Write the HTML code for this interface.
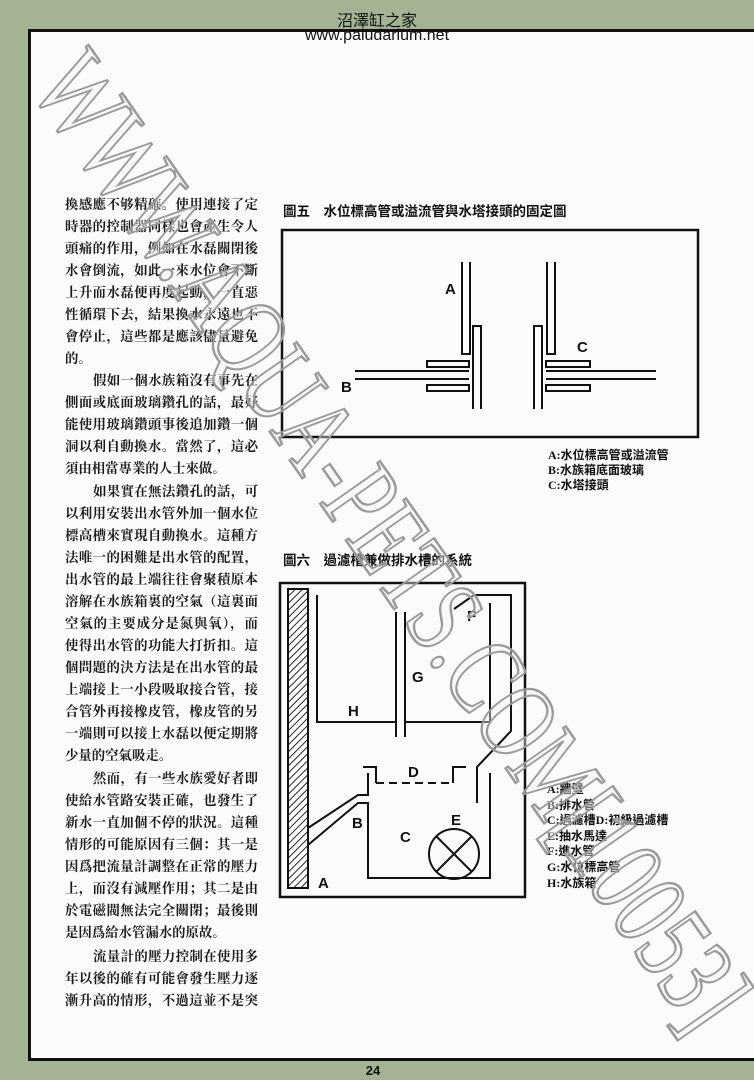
<!DOCTYPE html>
<html><head><meta charset="utf-8">
<style>
*{margin:0;padding:0;box-sizing:border-box}
html,body{width:754px;height:1080px;overflow:hidden;background:#a3b394}
#page{position:absolute;left:28px;top:29px;width:726px;height:1032px;background:#fbfbfb;border-top:3px solid #111;border-left:3px solid #111;border-bottom:3px solid #111}
.hd{position:absolute;left:0;width:754px;text-align:center;font-family:"Liberation Sans","Noto Sans CJK TC",sans-serif;color:#111;font-size:16px}
.ln{position:absolute;left:65px;width:193px;height:22px;line-height:22px;font-family:"Liberation Serif","Noto Serif CJK SC",serif;font-size:13.4px;font-weight:bold;color:#1a1a1a;text-align:justify;text-align-last:justify;white-space:nowrap}
.ln.in{left:93px;width:165px}
.ln.end{text-align-last:left}
.ttl{position:absolute;font-family:"Liberation Sans","Noto Sans CJK TC",sans-serif;font-weight:bold;font-size:13.5px;color:#111;white-space:nowrap}
.lg{position:absolute;font-family:"Liberation Serif","Noto Sans CJK TC",serif;font-weight:bold;font-size:12px;color:#111;white-space:nowrap;line-height:15px}
svg{position:absolute;left:0;top:0}
</style></head><body>
<div id="page"></div>
<div class="hd" style="top:7px">沼澤缸之家</div>
<div class="hd" style="top:27px">www.paludarium.net</div>

<div class="ln" style="top:194px">換感應不够精確。使用連接了定</div>
<div class="ln" style="top:216px">時器的控制器同樣也會產生令人</div>
<div class="ln" style="top:238px">頭痛的作用，例如在水磊關閉後</div>
<div class="ln" style="top:260px">水會倒流，如此一來水位會不斷</div>
<div class="ln" style="top:282px">上升而水磊便再度起動，一直惡</div>
<div class="ln" style="top:304px">性循環下去，結果換水永遠也不</div>
<div class="ln" style="top:326px">會停止，這些都是應該儘量避免</div>
<div class="ln end" style="top:348px">的。</div>
<div class="ln in" style="top:370px">假如一個水族箱沒有事先在</div>
<div class="ln" style="top:392px">側面或底面玻璃鑽孔的話，最好</div>
<div class="ln" style="top:414px">能使用玻璃鑽頭事後追加鑽一個</div>
<div class="ln" style="top:436px">洞以利自動換水。當然了，這必</div>
<div class="ln end" style="top:458px">須由相當專業的人士來做。</div>
<div class="ln in" style="top:481px">如果實在無法鑽孔的話，可</div>
<div class="ln" style="top:503px">以利用安裝出水管外加一個水位</div>
<div class="ln" style="top:525px">標高槽來實現自動換水。這種方</div>
<div class="ln" style="top:547px">法唯一的困難是出水管的配置，</div>
<div class="ln" style="top:569px">出水管的最上端往往會聚積原本</div>
<div class="ln" style="top:591px">溶解在水族箱裏的空氣（這裏面</div>
<div class="ln" style="top:613px">空氣的主要成分是氮與氧），而</div>
<div class="ln" style="top:635px">使得出水管的功能大打折扣。這</div>
<div class="ln" style="top:657px">個問題的決方法是在出水管的最</div>
<div class="ln" style="top:679px">上端接上一小段吸取接合管，接</div>
<div class="ln" style="top:701px">合管外再接橡皮管，橡皮管的另</div>
<div class="ln" style="top:723px">一端則可以接上水磊以便定期將</div>
<div class="ln end" style="top:745px">少量的空氣吸走。</div>
<div class="ln in" style="top:768px">然而，有一些水族愛好者即</div>
<div class="ln" style="top:790px">使給水管路安裝正確，也發生了</div>
<div class="ln" style="top:812px">新水一直加個不停的狀況。這種</div>
<div class="ln" style="top:834px">情形的可能原因有三個：其一是</div>
<div class="ln" style="top:856px">因爲把流量計調整在正常的壓力</div>
<div class="ln" style="top:878px">上，而沒有減壓作用；其二是由</div>
<div class="ln" style="top:900px">於電磁閥無法完全關閉；最後則</div>
<div class="ln end" style="top:922px">是因爲給水管漏水的原故。</div>
<div class="ln in" style="top:946px">流量計的壓力控制在使用多</div>
<div class="ln" style="top:968px">年以後的確有可能會發生壓力逐</div>
<div class="ln" style="top:990px">漸升高的情形，不過這並不是突</div>

<div class="ttl" style="left:283px;top:200px">圖五　水位標高管或溢流管與水塔接頭的固定圖</div>
<div class="ttl" style="left:283px;top:549px">圖六　過濾槽兼做排水槽的系統</div>

<div class="lg" style="left:548px;top:448px">A:水位標高管或溢流管<br>B:水族箱底面玻璃<br>C:水塔接頭</div>
<div class="lg" style="left:547px;top:782px;line-height:15.6px">A:牆壁<br>B:排水管<br>C:過濾槽D:初級過濾槽<br>E:抽水馬達<br>F:進水管<br>G:水位標高管<br>H:水族箱</div>

<svg width="754" height="1080" viewBox="0 0 754 1080">
<defs>
<pattern id="h" width="5" height="5" patternUnits="userSpaceOnUse" patternTransform="rotate(45)">
<rect width="5" height="5" fill="#fff"/><line x1="0" y1="0" x2="0" y2="5" stroke="#222" stroke-width="2"/>
</pattern>
</defs>
<g fill="none" stroke="#111" stroke-width="2">
<rect x="282" y="230" width="416" height="207" stroke-width="2.5"/>
<path d="M462 262V354H470V262"/>
<path d="M473 409V326H481V409"/>
<rect x="427" y="361" width="42" height="6"/>
<rect x="427" y="385" width="42" height="6"/>
<path d="M355 371H469M355 379H469"/>
<path d="M534 409V326H542V409"/>
<path d="M547 262V354H555V262"/>
<rect x="546" y="361" width="44" height="6"/>
<rect x="546" y="385" width="44" height="6"/>
<path d="M546 371H656M546 379H656"/>
<rect x="280" y="583" width="245" height="314" stroke-width="2.5"/>
<rect x="288" y="589" width="20" height="299" fill="url(#h)"/>
<path d="M317 595V722H395"/>
<path d="M396 612V737M405 612V737"/>
<path d="M406 722H490V603"/>
<path d="M454 609L474 595H511V731L477 767V803"/>
<path d="M308 828L358 795H368V773"/>
<path d="M308 845L358 803H368V878H490V773"/>
<path d="M363 767H376V783M453 783V767H466"/>
<path d="M376 783H453" stroke-dasharray="8 5"/>
<circle cx="454" cy="854" r="25"/>
<path d="M436 836L472 872M472 836L436 872"/>
</g>
<g font-family="Liberation Sans,sans-serif" font-weight="bold" font-size="15" fill="#111">
<text x="445" y="294">A</text><text x="341" y="392">B</text><text x="577" y="352">C</text>
<text x="318" y="888">A</text><text x="352" y="828">B</text><text x="400" y="842">C</text>
<text x="408" y="777">D</text><text x="451" y="825">E</text><text x="467" y="621">F</text>
<text x="412" y="682">G</text><text x="348" y="716">H</text>
</g>
<text x="373" y="1075" font-family="Liberation Sans,sans-serif" font-weight="bold" font-size="13" fill="#111" text-anchor="middle">24</text>
<text x="392" y="540" transform="rotate(55 392 540)" dy="38" text-anchor="middle" textLength="1160" lengthAdjust="spacingAndGlyphs" font-family="Liberation Serif,serif" font-size="112" fill="#f4f4f4" fill-opacity="0.4" stroke="#9a9a9a" stroke-width="2.5">WWW.AQUA-PETS.COM[10053]</text>
</svg>
</body></html>
